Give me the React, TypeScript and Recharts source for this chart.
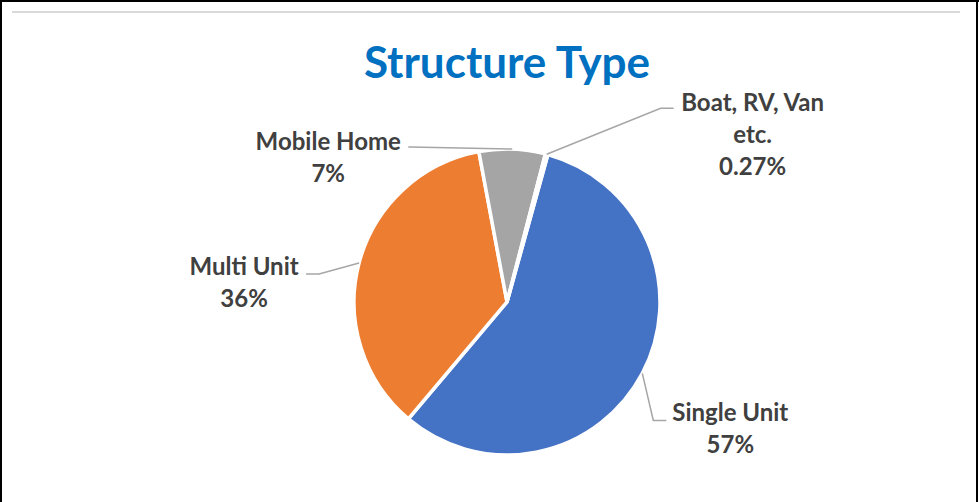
import React from "react"
import { PieChart, Pie, Cell } from "recharts"

// data
const CATEGORIES = ["Single Unit", "Multi Unit", "Mobile Home", "Boat, RV, Van etc."]
const SHARES = [57, 36, 7, 0.27]

const COLORS = ["#4472c4", "#ed7d31", "#a5a5a5", "#ffc000"]
const W = 979
const H = 502
const CX = 507
const CY = 302
const R = 153
const FIRST_SLICE = 15.5 // degrees clockwise from 12 o'clock, like Excel

// label placement relative to the slice's outer midpoint
const LABEL_LAYOUT = [
  { end: [24, 47], elbow: -13, text: [88, 54] },
  { end: [-53, 11], elbow: 13, text: [-115, 19] },
  { end: [-104, -2], elbow: 2, text: [-184, 7] },
  { end: [127, -46], elbow: -13, text: [206, -21] },
]
const LINE_GAP = 32
const FONT = "Lato, 'Open Sans', sans-serif"

const data = CATEGORIES.map((name, i) => ({ name, value: SHARES[i] }))

function wrap(name: string) {
  if (name.length <= 13) return [name]
  const cut = name.lastIndexOf(" ")
  return [name.slice(0, cut), name.slice(cut + 1)]
}

const RAD = Math.PI / 180

function renderLabel(props: any) {
  const { cx, cy, midAngle, outerRadius, index } = props
  const lay = LABEL_LAYOUT[index]
  const ex = cx + Math.cos(-midAngle * RAD) * outerRadius
  const ey = cy + Math.sin(-midAngle * RAD) * outerRadius
  const endX = ex + lay.end[0]
  const endY = ey + lay.end[1]
  const lines = [...wrap(CATEGORIES[index]), `${SHARES[index]}%`]
  const tx = ex + lay.text[0]
  const ty = ey + lay.text[1]
  const top = ty - ((lines.length - 1) * LINE_GAP) / 2
  return (
    <g key={`lbl-${index}`}>
      <polyline
        points={`${ex},${ey} ${endX + lay.elbow},${endY} ${endX},${endY}`}
        fill="none"
        stroke="#a6a6a6"
        strokeWidth={1.5}
      />
      {lines.map((t, k) => (
        <text
          key={k}
          x={tx}
          y={top + k * LINE_GAP}
          textAnchor="middle"
          dominantBaseline="central"
          fill="#404040"
          fontFamily={FONT}
          fontWeight={700}
          fontSize={24}
        >
          {t}
        </text>
      ))}
    </g>
  )
}

export default function App() {
  const start = 90 - FIRST_SLICE
  return (
    <div style={{ position: "absolute", left: 0, top: 0, width: W, height: H, background: "#fff" }}>
      <PieChart width={W} height={H} margin={{ top: 0, right: 0, bottom: 0, left: 0 }}>
        <Pie
          data={data}
          dataKey="value"
          nameKey="name"
          cx={CX}
          cy={CY}
          outerRadius={R}
          startAngle={start}
          endAngle={start - 360}
          stroke="#ffffff"
          strokeWidth={3.5}
          label={renderLabel}
          labelLine={false}
          isAnimationActive={false}
        >
          {data.map((_, i) => (
            <Cell key={i} fill={COLORS[i]} />
          ))}
        </Pie>
      </PieChart>
      <svg
        width={W}
        height={H}
        style={{ position: "absolute", left: 0, top: 0, pointerEvents: "none" }}
      >
        <line x1={1} y1={0} x2={1} y2={H} stroke="#000" strokeWidth={2} />
        <line x1={0} y1={1} x2={W} y2={1} stroke="#000" strokeWidth={2} />
        <line x1={977} y1={0} x2={977} y2={H} stroke="#000" strokeWidth={2} />
        <line x1={12} y1={12} x2={960} y2={12} stroke="#d9d9d9" strokeWidth={2} />
        <text
          x={507}
          y={78}
          textAnchor="middle"
          fill="#0070c0"
          fontFamily={FONT}
          fontWeight={700}
          fontSize={44}
        >
          Structure Type
        </text>
      </svg>
    </div>
  )
}
